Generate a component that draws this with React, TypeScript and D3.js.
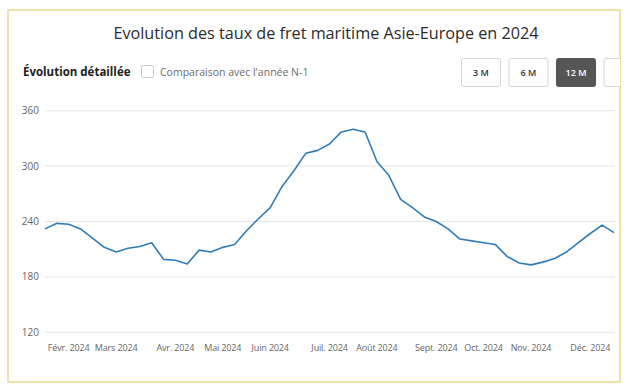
import React from 'react';
import * as d3 from 'd3';

// weekly rates (Saturdays), 20 Jan 2024 -> 21 Dec 2024
const startDate = new Date(2024, 0, 20);
const rates = [
  232, 238, 237, 232, 222, 212, 207, 211, 213, 217, 199, 198, 194, 209, 207, 212, 215,
  230, 243, 255, 278, 295, 314, 317, 324, 337, 340, 337, 305, 290, 264, 255, 245, 240,
  232, 221, 219, 217, 215, 202, 195, 193, 196, 200, 207, 217, 227, 236, 228,
];
const yTicks = [120, 180, 240, 300, 360];
const monthTicks = [
  new Date(2024, 1, 3), new Date(2024, 2, 2), new Date(2024, 3, 6), new Date(2024, 4, 4),
  new Date(2024, 5, 1), new Date(2024, 6, 6), new Date(2024, 7, 3), new Date(2024, 8, 7),
  new Date(2024, 9, 5), new Date(2024, 10, 2), new Date(2024, 11, 7),
];
const monthNames = ['Janv.', 'Févr.', 'Mars', 'Avr.', 'Mai', 'Juin', 'Juil.', 'Août', 'Sept.', 'Oct.', 'Nov.', 'Déc.'];
const periods = ['3 M', '6 M', '12 M', ''];

const W = 644;
const H = 392;
const FONT = "'Open Sans', 'Noto Sans', sans-serif";

export default function App() {
  const data = rates.map((v, i) => ({ date: d3.timeDay.offset(startDate, i * 7), value: v }));

  const x = d3.scaleTime()
    .domain([data[0].date, data[data.length - 1].date])
    .range([45, 614]);
  const y = d3.scaleLinear().domain([120, 360]).range([332.3, 110.7]);

  const line = d3.line<{ date: Date; value: number }>()
    .x(d => x(d.date))
    .y(d => y(d.value));

  return (
    <div style={{ position: 'absolute', left: 0, top: 0 }}>
      <svg width={W} height={H} style={{ display: 'block', background: '#fff' }}>
        <defs>
          <clipPath id="frameClip">
            <rect x={8} y={10} width={612} height={372} />
          </clipPath>
        </defs>
        <rect x={8} y={10} width={612} height={372} fill="#fff" stroke="#efe3a6" strokeWidth={2} />

        <text x={326} y={39} textAnchor="middle" fontFamily={FONT} fontSize={16.2} fill="#2b2b2b">
          Evolution des taux de fret maritime Asie-Europe en 2024
        </text>

        <text x={23} y={76} fontFamily={FONT} fontSize={11.5} fontWeight="bold" fill="#222">
          Évolution détaillée
        </text>
        <rect x={141.5} y={65.5} width={12} height={12} rx={2} fill="#fff" stroke="#c8c8c8" />
        <text x={160} y={76} fontFamily={FONT} fontSize={10.5} fill="#6b6b6b">
          Comparaison avec l'année N-1
        </text>

        <g clipPath="url(#frameClip)">
          {periods.map((p, i) => {
            const bx = 461 + i * 47.5;
            const active = p === '12 M';
            return (
              <g key={i}>
                <rect x={bx + 0.5} y={58.5} width={39} height={28} rx={2}
                  fill={active ? '#555' : '#fff'} stroke={active ? '#555' : '#d4d4d4'} />
                <text x={bx + 20} y={76} textAnchor="middle" fontFamily={FONT} fontSize={9}
                  fontWeight={600} fill={active ? '#fff' : '#333'}>{p}</text>
              </g>
            );
          })}
        </g>

        {yTicks.map(t => (
          <g key={t}>
            <line x1={45} x2={615} y1={y(t)} y2={y(t)} stroke="#e6e6e6" strokeWidth={1} />
            <text x={39} y={y(t)} dy="0.35em" textAnchor="end" fontFamily={FONT} fontSize={10} fill="#666">
              {t}
            </text>
          </g>
        ))}

        {monthTicks.map((d, i) => (
          <text key={i} x={x(d)} y={351} textAnchor="middle" fontFamily={FONT} fontSize={9}
            letterSpacing={-0.15} fill="#666">
            {`${monthNames[d.getMonth()]} ${d.getFullYear()}`}
          </text>
        ))}

        <path d={line(data) ?? ''} fill="none" stroke="#2f7cb6" strokeWidth={1.6} strokeLinejoin="round" />
      </svg>
    </div>
  );
}
